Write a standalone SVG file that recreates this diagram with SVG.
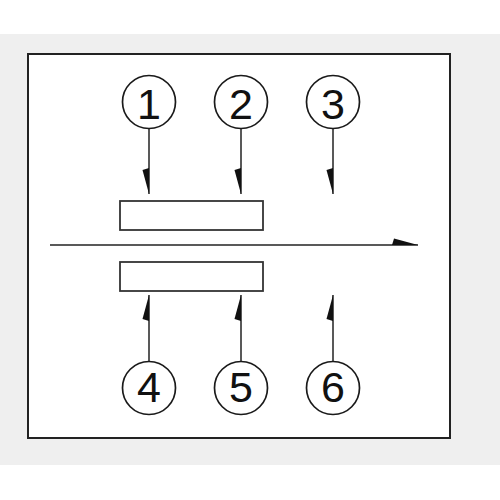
<svg xmlns="http://www.w3.org/2000/svg" width="500" height="500" viewBox="0 0 500 500">
  <style>
    .ln { stroke: #222; stroke-width: 1.5; fill: none; }
    .bx { stroke: #333; stroke-width: 1.8; fill: #fff; }
    .cc { stroke: #1a1a1a; stroke-width: 1.7; fill: #fff; }
    .num { font-family: "Liberation Sans", Arial, sans-serif; font-size: 43px; fill: #111; text-anchor: middle; }
  </style>
  <defs>
    <marker id="barbN" markerUnits="userSpaceOnUse" viewBox="-28 -10 30 20" markerWidth="30" markerHeight="20" refX="0" refY="0" orient="auto" overflow="visible">
      <path d="M0,0 L-24,-6.5 L-26,0 Z" fill="#111"/>
    </marker>
    <marker id="barbP" markerUnits="userSpaceOnUse" viewBox="-28 -10 30 20" markerWidth="30" markerHeight="20" refX="0" refY="0" orient="auto" overflow="visible">
      <path d="M0,0 L-24,6.5 L-26,0 Z" fill="#111"/>
    </marker>
  </defs>
  <rect x="0" y="34" width="500" height="431" fill="#efefef"/>
  <rect x="28" y="54" width="422" height="384" fill="#fff" stroke="#222" stroke-width="2"/>

  <g id="plateTop"><rect class="bx" x="120" y="201" width="143" height="29"/></g>
  <g id="plateBottom"><rect class="bx" x="120" y="262" width="143" height="29"/></g>

  <g id="connectors">
    <line class="ln" x1="50" y1="245" x2="418" y2="245" marker-end="url(#barbN)"/>
    <line class="ln" x1="149" y1="129" x2="149" y2="194" marker-end="url(#barbP)"/>
    <line class="ln" x1="241" y1="129" x2="241" y2="194" marker-end="url(#barbP)"/>
    <line class="ln" x1="333" y1="129" x2="333" y2="194" marker-end="url(#barbP)"/>
    <line class="ln" x1="149" y1="361" x2="149" y2="295" marker-end="url(#barbN)"/>
    <line class="ln" x1="241" y1="361" x2="241" y2="295" marker-end="url(#barbN)"/>
    <line class="ln" x1="333" y1="361" x2="333" y2="295" marker-end="url(#barbN)"/>
  </g>

  <g id="n1"><circle class="cc" cx="149" cy="102" r="26.5"/><text class="num" x="149" y="119">1</text></g>
  <g id="n2"><circle class="cc" cx="241" cy="102" r="26.5"/><text class="num" x="241" y="119">2</text></g>
  <g id="n3"><circle class="cc" cx="333" cy="102" r="26.5"/><text class="num" x="333" y="119">3</text></g>
  <g id="n4"><circle class="cc" cx="149" cy="388" r="26.5"/><text class="num" x="149" y="402">4</text></g>
  <g id="n5"><circle class="cc" cx="241" cy="388" r="26.5"/><text class="num" x="241" y="402">5</text></g>
  <g id="n6"><circle class="cc" cx="333" cy="388" r="26.5"/><text class="num" x="333" y="402">6</text></g>
</svg>
